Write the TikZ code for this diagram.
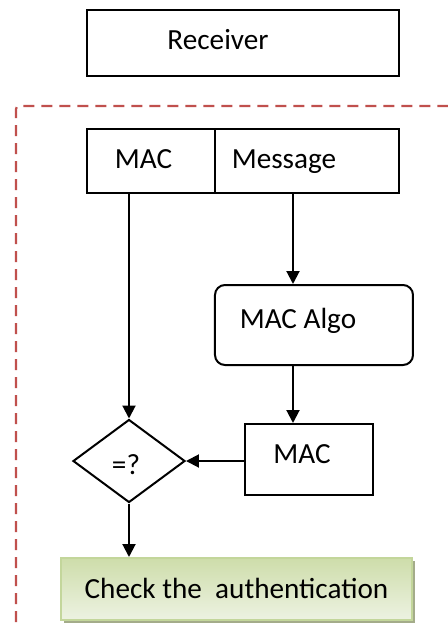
\documentclass[tikz,border=0pt]{standalone}
\usepackage{fontspec}
\setmainfont{Carlito}
\usetikzlibrary{arrows.meta,shapes.geometric,shadows}

\definecolor{frame}{HTML}{C0504D}
\definecolor{greenedge}{HTML}{C3D69B}
\definecolor{greentop}{HTML}{CEDDAA}
\definecolor{greenbot}{HTML}{EDF2E2}
\definecolor{greenshade}{HTML}{A4AC8A}

\tikzset{
  box/.style={draw, line width=1pt, inner sep=0pt},
  caps/.style={text height=9.2pt, text depth=0pt, inner sep=0pt},
  decision/.style={draw, diamond, line width=1pt, inner sep=0pt, aspect=1.35,
                   minimum width=56pt, minimum height=41.5pt},
  result/.style={draw=greenedge, line width=1pt, top color=greentop, bottom color=greenbot,
                 drop shadow={shadow xshift=1.5pt, shadow yshift=-1.5pt, fill=greenshade, opacity=1},
                 minimum width=175.5pt, minimum height=31pt, caps},
  flow/.style={->, line width=1pt}
}

\begin{document}
\begin{tikzpicture}[x=0.5pt,y=-0.5pt,>={Triangle[length=6.5pt,width=6.5pt]},
                    font=\fontsize{14.6}{17}\selectfont]
  \useasboundingbox (0,0) rectangle (448,629);

  % receiving side frame
  \draw[frame, line width=1.1pt, dash pattern=on 5.5pt off 3.5pt, rounded corners=1.5pt]
        (16,640) -- (16,106) -- (460,106);

  \node[box, minimum width=156pt, minimum height=33pt,
        label={[caps,xshift=-12.5pt,yshift=1.5pt]center:Receiver}] (recv) at (243,43) {};

  \node[box, minimum width=64pt, minimum height=32pt,
        label={[caps,xshift=-3.75pt,yshift=1pt]center:MAC}]     (mac) at (151,161) {};
  \node[box, minimum width=92pt, minimum height=32pt,
        label={[caps,xshift=-11.5pt,yshift=1pt]center:Message}] (msg) at (307,161) {};

  \node[box, rounded corners=5pt, minimum width=99pt, minimum height=40pt,
        label={[caps,xshift=-8pt,yshift=3pt]center:MAC Algo}] (algo) at (314,325) {};
  \node[box, minimum width=64pt, minimum height=35.5pt,
        label={[caps,xshift=-3.5pt,yshift=2.75pt]center:MAC}] (tag) at (309,459.5) {};

  \node[decision, label={[caps,xshift=-1.5pt,yshift=-2pt]center:=?}] (cmp) at (129,461) {};
  \node[result] (chk) at (236.5,589) {Check the\ \ authentication};

  \draw[flow] (cmp |- mac.south) -- (cmp.north);
  \draw[flow] ([xshift=-7pt]msg.south) -- ([xshift=-7pt]msg.south |- algo.north);
  \draw[flow] ([xshift=-10.5pt]algo.south) -- ([xshift=-10.5pt]algo.south |- tag.north);
  \draw[flow] (tag.west |- cmp) -- (cmp.east);
  \draw[flow] (cmp.south) -- (cmp.south |- chk.north);
\end{tikzpicture}
\end{document}
